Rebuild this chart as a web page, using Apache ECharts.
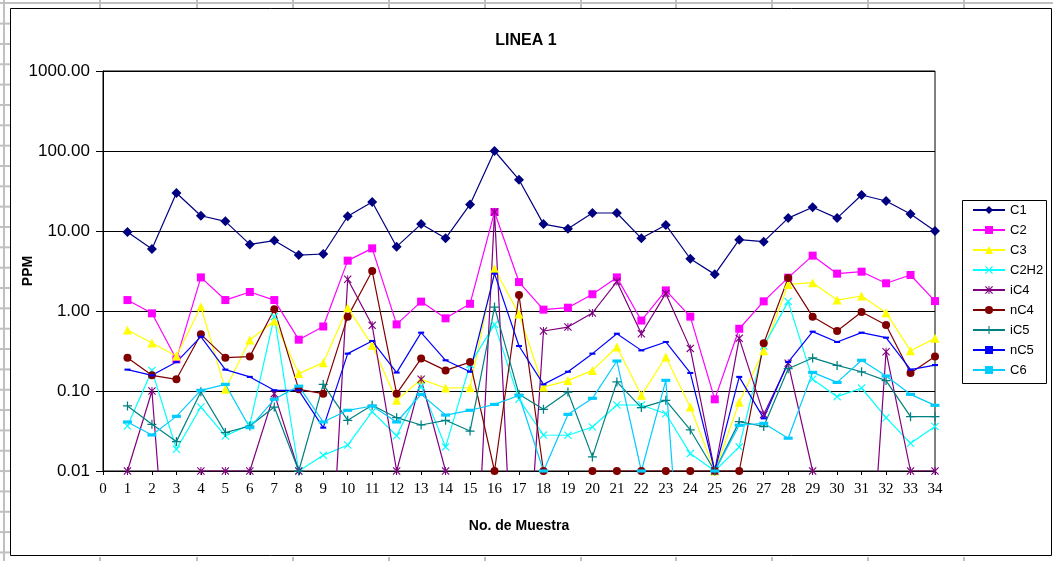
<!DOCTYPE html>
<html>
<head>
<meta charset="utf-8">
<title>LINEA 1</title>
<script src="https://cdn.jsdelivr.net/npm/echarts@6/dist/echarts.min.js"></script>
<style>
    html, body { margin: 0; padding: 0; background: #fff; }
    #chart { width: 1053px; height: 561px; }
</style>
</head>
<body>
<div id="chart"></div>
<script>
// muestras 1..34, eje x de 0 a 34
var samples = [1, 2, 3, 4, 5, 6, 7, 8, 9, 10, 11, 12, 13, 14, 15, 16, 17,
    18, 19, 20, 21, 22, 23, 24, 25, 26, 27, 28, 29, 30, 31, 32, 33, 34];
var xMin = 0;
var xMax = 34;
var yMin = 0.01;
var yMax = 1000;

// valores por debajo del eje (se salen del grafico)
var T = 0.00001;

var c1 = [9.7, 5.96, 29.9, 15.5, 13.2, 6.8, 7.6, 5.0, 5.16, 15.3, 23.0, 6.37, 12.2, 8.1, 21.5, 100,
    43.8, 12.2, 10.7, 16.8, 16.8, 8.1, 11.9, 4.5, 2.87, 7.8, 7.36, 14.5, 19.8, 14.5, 28.2, 23.7, 16.3, 10.0];
var c2 = [1.37, 0.935, 0.249, 2.63, 1.37, 1.73, 1.37, 0.438, 0.64, 4.26, 6.07, 0.68, 1.31, 0.81, 1.23, 17.3,
    2.30, 1.04, 1.10, 1.62, 2.63, 0.76, 1.81, 0.85, 0.0787, 0.60, 1.32, 2.61, 4.92, 2.93, 3.10, 2.22, 2.82, 1.33];
var c3 = [0.579, 0.398, 0.274, 1.13, 0.105, 0.434, 0.75, 0.165, 0.226, 1.10, 0.372, 0.0764, 0.140, 0.109, 0.110, 3.38,
    0.917, 0.112, 0.135, 0.181, 0.355, 0.0883, 0.266, 0.063, 0.01, 0.0722, 0.319, 2.15, 2.26, 1.37, 1.54, 0.953, 0.319, 0.455];
var c2h2 = [0.0365, 0.181, 0.0187, 0.063, 0.0274, 0.038, 0.85, 0.01, 0.0157, 0.0211, 0.0552, 0.0276, 0.115, 0.02, 0.215, 0.68,
    0.0787, 0.0282, 0.028, 0.0355, 0.0668, 0.0668, 0.052, 0.0165, 0.01, 0.02, 0.365, 1.31, 0.14, 0.085, 0.109, 0.0464, 0.0222, 0.036];
var ic4 = [0.01, 0.1, T, 0.01, 0.01, 0.01, 0.0926, 0.01, T, 2.49, 0.662, 0.01, 0.14, 0.01, T, 17.3,
    T, 0.562, 0.63, 0.944, 2.33, 0.52, 1.66, 0.341, 0.01, 0.455, 0.051, 0.222, 0.01, T, T, 0.31, 0.01, 0.01];
var nc4 = [0.261, 0.157, 0.14, 0.511, 0.261, 0.269, 1.05, 0.105, 0.0926, 0.85, 3.16, 0.0926, 0.254, 0.181, 0.23, 0.01,
    1.58, 0.01, T, 0.01, 0.01, 0.01, 0.01, 0.01, 0.01, 0.01, 0.394, 2.58, 0.85, 0.562, 0.97, 0.668, 0.168, 0.269];
var ic5 = [0.065, 0.0383, 0.0233, 0.098, 0.0302, 0.0365, 0.063, 0.01, 0.121, 0.043, 0.0662, 0.0464, 0.0376, 0.043, 0.0316, 1.12,
    0.0908, 0.059, 0.097, 0.015, 0.13, 0.062, 0.0764, 0.0326, 0.01, 0.0414, 0.036, 0.19, 0.259, 0.209, 0.174, 0.135, 0.0478, 0.0478];
var nc5 = [0.185, 0.157, 0.23, 0.478, 0.185, 0.15, 0.102, 0.102, 0.0348, 0.293, 0.422, 0.17, 0.536, 0.242, 0.174, 2.93,
    0.365, 0.121, 0.174, 0.293, 0.52, 0.322, 0.41, 0.168, 0.01, 0.15, 0.0455, 0.23, 0.552, 0.41, 0.536, 0.464, 0.185, 0.211];
var c6 = [0.041, 0.0282, 0.0482, 0.102, 0.121, 0.0348, 0.0787, 0.115, 0.041, 0.0574, 0.065, 0.041, 0.0908, 0.05, 0.0574, 0.068,
    0.088, 0.01, 0.051, 0.081, 0.237, 0.01, 0.136, T, 0.01, 0.0373, 0.0394, 0.0257, 0.171, 0.128, 0.242, 0.154, 0.0908, 0.0662];

var SANS = '"Liberation Sans", Arial, sans-serif';
var SERIF = '"Liberation Serif", "Times New Roman", serif';

// marcadores tipo Excel
var X_MARK = 'path://M0,1 L1,0 L5,4 L9,0 L10,1 L6,5 L10,9 L9,10 L5,6 L1,10 L0,9 L4,5 Z';
var STAR_MARK = 'path://M0,1 L1,0 L5,4 L9,0 L10,1 L6,5 L10,9 L9,10 L5,6 L1,10 L0,9 L4,5 Z M4.4,0 L5.6,0 L5.6,10 L4.4,10 Z';
var PLUS_MARK = 'path://M4.3,0 L5.7,0 L5.7,4.3 L10,4.3 L10,5.7 L5.7,5.7 L5.7,10 L4.3,10 L4.3,5.7 L0,5.7 L0,4.3 L4.3,4.3 Z';
var DASH_MARK = 'path://M0,0 L10,0 L10,3.5 L0,3.5 Z';

var chart = echarts.init(document.getElementById('chart'));

function makeSeries(name, values, color, symbol, size) {
    var pts = [];
    for (var i = 0; i < samples.length; i++) {
        pts.push([samples[i], values[i]]);
    }
    return {
        name: name,
        type: 'line',
        data: pts,
        symbol: symbol,
        symbolSize: size,
        symbolKeepAspect: true,
        showAllSymbol: true,
        clip: true,
        animation: false,
        lineStyle: { color: color, width: 1.2 },
        itemStyle: { color: color }
    };
}

function sheetLines() {
    // lineas de la hoja de calculo alrededor del grafico
    var els = [];
    var grey = { stroke: '#c0c0c0', lineWidth: 2 };
    els.push({ type: 'line', shape: { x1: 0, y1: 3, x2: 1053, y2: 3 }, style: grey, silent: true });
    els.push({ type: 'line', shape: { x1: 4, y1: 0, x2: 4, y2: 561 }, style: grey, silent: true });
    var cols = [100, 197, 293, 389, 485, 581, 676, 772, 868, 964];
    for (var i = 0; i < cols.length; i++) {
        els.push({ type: 'line', shape: { x1: cols[i], y1: 0, x2: cols[i], y2: 8 }, style: grey, silent: true });
        els.push({ type: 'line', shape: { x1: cols[i], y1: 557, x2: cols[i], y2: 561 }, style: grey, silent: true });
    }
    for (var y = 23.6; y < 561; y += 20.34) {
        els.push({ type: 'line', shape: { x1: 0, y1: y, x2: 10, y2: y }, style: grey, silent: true });
    }
    // borde del area del grafico
    els.push({ type: 'rect', shape: { x: 10.5, y: 8.5, width: 1041, height: 547 },
        style: { fill: 'none', stroke: '#000', lineWidth: 1 }, silent: true });
    // caja de la leyenda
    els.push({ type: 'rect', shape: { x: 962.5, y: 200.5, width: 84, height: 183 },
        style: { fill: 'none', stroke: '#000', lineWidth: 1 }, silent: true });
    return els;
}

var option = {
    backgroundColor: '#fff',
    animation: false,
    title: {
        text: 'LINEA 1',
        left: 521,
        top: 28,
        textAlign: 'center',
        textStyle: { fontFamily: SANS, fontSize: 16, fontWeight: 'bold', color: '#000' }
    },
    legend: {
        orient: 'vertical',
        left: 962,
        top: 200,
        padding: [3, 6, 6, 10],
        itemWidth: 32,
        itemHeight: 10,
        itemGap: 6,
        textStyle: { fontFamily: SANS, fontSize: 13, lineHeight: 14, color: '#000' },
        data: ['C1', 'C2', 'C3', 'C2H2', 'iC4', 'nC4', 'iC5', 'nC5', 'C6']
    },
    grid: {
        left: 103,
        right: 118,
        top: 71,
        bottom: 90,
        show: true,
        borderColor: '#000',
        borderWidth: 1,
        backgroundColor: 'transparent'
    },
    xAxis: {
        type: 'value',
        min: xMin,
        max: xMax,
        interval: 1,
        name: 'No. de Muestra',
        nameLocation: 'middle',
        nameGap: 48,
        nameMoveOverlap: false,
        nameTextStyle: { fontFamily: SANS, fontSize: 14, fontWeight: 'bold', color: '#000' },
        axisLine: { show: true, lineStyle: { color: '#000', width: 1 } },
        axisTick: { show: true, length: 4, lineStyle: { color: '#000' } },
        axisLabel: { fontFamily: SERIF, fontSize: 15, color: '#000', margin: 11 },
        splitLine: { show: false }
    },
    yAxis: {
        type: 'log',
        logBase: 10,
        min: yMin,
        max: yMax,
        name: 'PPM',
        nameLocation: 'middle',
        nameGap: 68,
        nameMoveOverlap: false,
        nameTextStyle: { fontFamily: SANS, fontSize: 14, fontWeight: 'bold', color: '#000' },
        axisLine: { show: true, lineStyle: { color: '#000', width: 1 } },
        axisTick: { show: true, length: 7, lineStyle: { color: '#000' } },
        axisLabel: {
            fontFamily: SANS,
            fontSize: 17,
            color: '#000',
            margin: 13,
            formatter: function (v) { return Number(v).toFixed(2); }
        },
        splitLine: { show: true, lineStyle: { color: '#000', width: 1 } }
    },
    graphic: sheetLines(),
    series: [
        makeSeries('C1', c1, '#000080', 'diamond', 10),
        makeSeries('C2', c2, '#ff00ff', 'rect', 8),
        makeSeries('C3', c3, '#ffff00', 'triangle', 9),
        makeSeries('C2H2', c2h2, '#00ffff', X_MARK, 8),
        makeSeries('iC4', ic4, '#800080', STAR_MARK, 8),
        makeSeries('nC4', nc4, '#800000', 'circle', 8),
        makeSeries('iC5', ic5, '#008080', PLUS_MARK, 9),
        makeSeries('nC5', nc5, '#0000ff', DASH_MARK, 6),
        makeSeries('C6', c6, '#00ccff', DASH_MARK, 9)
    ]
};

chart.setOption(option);
</script>
</body>
</html>
